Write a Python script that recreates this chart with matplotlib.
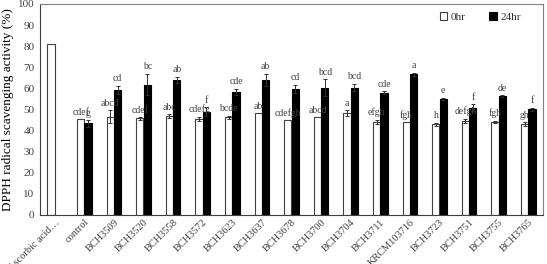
import matplotlib
matplotlib.use("Agg")
import matplotlib.pyplot as plt
import numpy as np

plt.rcParams['font.family'] = ['Liberation Serif', 'DejaVu Serif']

categories = ["Ascorbic acid…", "control", "BCH3509", "BCH3520", "BCH3558", "BCH3572",
              "BCH3623", "BCH3637", "BCH3678", "BCH3700", "BCH3704", "BCH3711",
              "KRCM103716", "BCH3723", "BCH3751", "BCH3755", "BCH3765"]
vals_0hr = [81.2, 45.4, 46.5, 45.7, 46.8, 45.4, 46.3, 48.1, 44.9, 46.3, 48.2, 44.2,
            43.9, 43.0, 44.5, 44.1, 43.1]
err_0hr = [0, 0, 3.0, 0.5, 1.0, 1.0, 0.8, 0, 0, 0, 1.3, 1.0, 0, 0.8, 1.0, 0.5, 0.8]
vals_24hr = [np.nan, 43.4, 59.1, 61.8, 63.9, 49.0, 58.3, 63.9, 59.6, 60.2, 60.3, 58.0,
             66.7, 55.0, 50.9, 56.3, 50.1]
err_24hr = [0, 1.5, 2.0, 5.0, 1.5, 2.0, 1.5, 3.0, 2.0, 4.0, 1.8, 0.5, 0.8, 0.5, 1.5, 0.5, 0.8]
letters_0hr = ["", "cdef", "abcd", "cdef", "abc", "cdefg", "bcde", "ab", "cdefgh", "abcd",
               "a", "efgh", "fgh", "h", "defgh", "fgh", "gh"]
letters_24hr = ["", "g", "cd", "bc", "ab", "f", "cde", "ab", "cd", "bcd", "bcd", "cde",
                "a", "e", "f", "de", "f"]

fig = plt.figure(figsize=(5.47, 2.64), dpi=100)
ax = fig.add_axes([0.073, 0.186, 0.920, 0.799])

x = np.arange(len(categories))
w = 0.245
off = 0.125
ax.bar(x - off, vals_0hr, w, color='white', edgecolor='#404040', linewidth=0.8,
       label='0hr', zorder=2)
ax.bar(x + off, vals_24hr, w, color='black', edgecolor='black', linewidth=0.8,
       label='24hr', zorder=2)

e0 = np.array(err_0hr, dtype=float)
e24 = np.array(err_24hr, dtype=float)
v24 = np.array(vals_24hr, dtype=float)
m0 = e0 > 0
ax.errorbar((x - off)[m0], np.array(vals_0hr)[m0], yerr=e0[m0], fmt='none',
            ecolor='#303030', elinewidth=0.7, capsize=1.5, capthick=0.7, zorder=3)
m24 = (e24 > 0) & ~np.isnan(v24)
ax.errorbar((x + off)[m24], v24[m24], yerr=e24[m24], fmt='none',
            ecolor='#303030', elinewidth=0.7, capsize=1.5, capthick=0.7, zorder=3)

for i in range(len(categories)):
    if letters_0hr[i]:
        ax.text(x[i] - off, vals_0hr[i] + e0[i] + 1.2, letters_0hr[i], ha='center',
                va='bottom', fontsize=7, color='#404040')
    if letters_24hr[i] and not np.isnan(v24[i]):
        ax.text(x[i] + off, v24[i] + e24[i] + 1.2, letters_24hr[i], ha='center',
                va='bottom', fontsize=7, color='#404040')

ax.set_xlim(-0.5, len(categories) - 0.5)
ax.set_ylim(0, 100)
ax.set_yticks(np.arange(0, 101, 10))
ax.tick_params(axis='y', length=0, labelsize=8, labelcolor='#404040', pad=4)
ax.tick_params(axis='x', length=0, labelsize=7.5, labelcolor='#404040', pad=2)
ax.set_xticks(x)
ax.set_xticklabels(categories, rotation=45, ha='right', rotation_mode='anchor')
ax.set_ylabel('DPPH radical scavenging activity (%)', fontsize=9.5, labelpad=3)

for s in ['top', 'right']:
    ax.spines[s].set_color('#808080')
    ax.spines[s].set_linewidth(0.8)
for s in ['left', 'bottom']:
    ax.spines[s].set_color('#404040')
    ax.spines[s].set_linewidth(0.8)

ax.legend(loc='upper right', bbox_to_anchor=(0.975, 1.01), ncol=2, frameon=False,
          fontsize=8, handlelength=0.7, handleheight=0.7, handletextpad=0.3,
          columnspacing=2.1, labelcolor='#303030')

fig.savefig('out.png', dpi=100)
